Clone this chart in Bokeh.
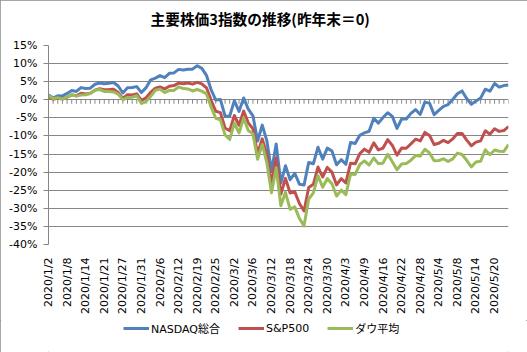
from bokeh.plotting import figure
from bokeh.layouts import column
from bokeh.models import (FixedTicker, Title, ColumnDataSource, Legend, LegendItem,
                          InlineStyleSheet)
from bokeh.embed import file_html
from bokeh.resources import INLINE

dates = [
    "2020/1/2", "2020/1/3", "2020/1/6", "2020/1/7", "2020/1/8", "2020/1/9", "2020/1/10",
    "2020/1/13", "2020/1/14", "2020/1/15", "2020/1/16", "2020/1/17", "2020/1/21", "2020/1/22",
    "2020/1/23", "2020/1/24", "2020/1/27", "2020/1/28", "2020/1/29", "2020/1/30", "2020/1/31",
    "2020/2/3", "2020/2/4", "2020/2/5", "2020/2/6", "2020/2/7", "2020/2/10", "2020/2/11",
    "2020/2/12", "2020/2/13", "2020/2/14", "2020/2/18", "2020/2/19", "2020/2/20", "2020/2/21",
    "2020/2/24", "2020/2/25", "2020/2/26", "2020/2/27", "2020/2/28",
    "2020/3/2", "2020/3/3", "2020/3/4", "2020/3/5", "2020/3/6", "2020/3/9", "2020/3/10",
    "2020/3/11", "2020/3/12", "2020/3/13", "2020/3/16", "2020/3/17", "2020/3/18", "2020/3/19",
    "2020/3/20", "2020/3/23", "2020/3/24", "2020/3/25", "2020/3/26", "2020/3/27", "2020/3/30",
    "2020/3/31",
    "2020/4/1", "2020/4/2", "2020/4/3", "2020/4/6", "2020/4/7", "2020/4/8", "2020/4/9",
    "2020/4/13", "2020/4/14", "2020/4/15", "2020/4/16", "2020/4/17", "2020/4/20", "2020/4/21",
    "2020/4/22", "2020/4/23", "2020/4/24", "2020/4/27", "2020/4/28", "2020/4/29", "2020/4/30",
    "2020/5/1", "2020/5/4", "2020/5/5", "2020/5/6", "2020/5/7", "2020/5/8", "2020/5/11",
    "2020/5/12", "2020/5/13", "2020/5/14", "2020/5/15", "2020/5/18", "2020/5/19", "2020/5/20",
    "2020/5/21", "2020/5/22", "2020/5/26",
]

nasdaq = [
    1.33, 0.54, 1.10, 1.07, 1.75, 2.57, 2.30, 3.36, 3.11, 3.19, 4.29, 4.64, 4.44, 4.58, 4.79,
    3.82, 1.86, 3.31, 3.37, 3.64, 1.99,
    3.35, 5.52, 5.97, 6.68, 6.11, 7.31, 7.43, 8.40, 8.24, 8.45, 8.47, 9.41, 8.67, 6.73, 2.77,
    -0.08, 0.09, -4.53, -4.52,
    -0.23, -3.22, 0.51, -2.61, -4.42, -11.39, -7.00, -11.37, -19.74, -12.23, -23.05, -18.25,
    -22.10, -20.31, -23.33, -23.54, -17.33, -17.70, -13.10, -16.39, -13.36, -14.18,
    -17.97, -16.55, -17.83, -11.81, -12.10, -9.83, -9.13, -8.70, -5.09, -6.46, -4.91, -3.59,
    -4.59, -7.91, -5.32, -5.33, -3.77, -2.70, -4.07, -0.65, -0.93,
    -4.10, -2.92, -1.82, -1.32, 0.08, 1.66, 2.45, 0.33, -1.22, -0.32, 0.47, 2.92, 2.37, 4.49,
    3.48, 3.92, 4.10,
]

sp500 = [
    0.84, 0.13, 0.48, 0.20, 0.69, 1.36, 1.07, 1.78, 1.62, 1.81, 2.66, 3.06, 2.79, 2.82, 2.93,
    2.00, 0.40, 1.41, 1.32, 1.64, -0.16,
    0.56, 2.07, 3.22, 3.56, 3.00, 3.75, 3.93, 4.60, 4.43, 4.62, 4.32, 4.81, 4.41, 3.31, -0.15,
    -3.17, -3.54, -7.80, -8.56,
    -4.35, -7.04, -3.12, -6.40, -8.00, -14.99, -10.79, -15.15, -23.22, -16.09, -26.14, -21.72,
    -25.77, -25.42, -28.66, -30.75, -24.25, -23.38, -18.59, -21.34, -18.70, -20.00,
    -23.53, -21.79, -22.97, -17.55, -17.69, -14.88, -13.65, -14.52, -11.91, -13.85, -13.35,
    -11.03, -12.62, -15.30, -13.35, -13.40, -12.20, -10.90, -11.37, -9.02, -9.85,
    -12.38, -12.01, -11.22, -11.83, -10.82, -9.32, -9.30, -11.16, -12.71, -11.71, -11.36,
    -8.57, -9.53, -8.02, -8.74, -8.52, -7.40,
]

dow = [
    1.16, 0.34, 0.58, 0.16, 0.72, 1.47, 1.00, 1.29, 1.41, 1.72, 2.66, 2.84, 2.30, 2.27, 2.18,
    1.58, -0.01, 0.65, 0.69, 1.12, -0.99,
    -0.49, 0.94, 2.64, 2.95, 1.98, 2.59, 2.59, 3.55, 3.10, 3.01, 2.43, 2.84, 2.39, 1.59, -2.02,
    -5.11, -5.54, -9.71, -10.96,
    -6.43, -9.18, -5.07, -8.47, -9.37, -16.43, -12.34, -17.47, -25.71, -18.76, -29.26, -25.58,
    -30.27, -29.61, -32.81, -34.85, -27.45, -25.71, -20.98, -24.18, -21.76, -23.20,
    -26.61, -24.97, -26.23, -20.53, -20.62, -17.89, -16.89, -18.04, -16.08, -17.64, -17.52,
    -15.05, -17.13, -19.34, -17.74, -17.60, -16.69, -15.43, -15.55, -13.68, -14.69,
    -16.87, -16.78, -16.31, -17.08, -16.34, -14.74, -15.13, -16.73, -18.54, -17.22, -17.01,
    -13.81, -15.18, -13.88, -14.24, -14.27, -12.42,
]

series_names = ["NASDAQ総合", "S&P500", "ダウ平均"]
series_colors = ["#4F81BD", "#C0504D", "#9BBB59"]
y_ticks = [-40, -35, -30, -25, -20, -15, -10, -5, 0, 5, 10, 15]
title_text = "主要株価3指数の推移(昨年末＝0)"
label_step = 4

LATIN = "DejaVu Sans, 'Noto Sans CJK JP', sans-serif"
CJK = "'Noto Sans CJK JP', sans-serif"
GRID = "#868686"

idx = list(range(len(dates)))
cols = ["nasdaq", "sp500", "dow"]
src = ColumnDataSource(dict(x=idx, nasdaq=nasdaq, sp500=sp500, dow=dow,
                            zero=[0] * len(idx), tick=[-1.1] * len(idx)))

# ---------------- main chart ----------------
p = figure(frame_width=460, frame_height=199, output_backend="svg", toolbar_location=None,
           x_range=(0, len(dates) - 1), y_range=(y_ticks[0], y_ticks[-1]),
           min_border_left=48, min_border_right=19, min_border_top=45, min_border_bottom=76)
p.outline_line_color = None
p.background_fill_color = "white"
p.border_fill_color = "white"

p.title = Title(text=title_text, align="left", offset=102, standoff=0,
                vertical_align="bottom", text_font=CJK, text_font_size="14.7px",
                text_font_style="bold", text_color="#000000",
                padding=dict(left=0, right=0, top=0, bottom=17))

p.xgrid.visible = False
p.ygrid.ticker = FixedTicker(ticks=y_ticks)
p.ygrid.grid_line_color = GRID
p.ygrid.grid_line_width = 1

p.yaxis.ticker = FixedTicker(ticks=y_ticks)
p.yaxis.major_label_overrides = {t: f"{t}%" for t in y_ticks}
p.yaxis.axis_line_color = GRID
p.yaxis.major_tick_line_color = GRID
p.yaxis.major_tick_out = 5
p.yaxis.major_tick_in = 0
p.yaxis.minor_tick_line_color = None
p.yaxis.major_label_standoff = 6
p.yaxis.major_label_text_font = LATIN
p.yaxis.major_label_text_font_size = "11px"
p.yaxis.major_label_text_color = "#000000"

xt = idx[::label_step]
p.xaxis.ticker = FixedTicker(ticks=xt)
p.xaxis.major_label_overrides = {i: dates[i] for i in xt}
p.xaxis.major_label_orientation = 3.14159265 / 2
p.xaxis.axis_line_color = None
p.xaxis.major_tick_line_color = None
p.xaxis.minor_tick_line_color = None
p.xaxis.major_label_standoff = 7
p.xaxis.major_label_text_font = LATIN
p.xaxis.major_label_text_font_size = "11px"
p.xaxis.major_label_text_color = "#000000"

# category tick marks on the 0% line
p.segment(x0="x", y0="zero", x1="x", y1="tick", source=src, line_color=GRID, line_width=1)

for col, color in zip(cols, series_colors):
    p.line("x", col, source=src, line_color=color, line_width=3, line_join="round")

# ---------------- legend strip ----------------
# same series, but this strip's y range lies above all data, so only the legend shows
p2 = figure(width=527, height=32, output_backend="svg", toolbar_location=None,
            x_axis_type=None, y_axis_type=None, min_border=0,
            x_range=(0, len(dates) - 1), y_range=(100, 101))
p2.outline_line_color = None
p2.grid.visible = False
p2.background_fill_color = "white"
p2.border_fill_color = "white"

items = []
for col, name, color in zip(cols, series_names, series_colors):
    r = p2.line("x", col, source=src, line_color=color, line_width=3)
    items.append(LegendItem(label=name, renderers=[r]))

lg = Legend(items=items, location=(75, 16), orientation="horizontal",
            border_line_color=None, background_fill_alpha=0, padding=0, margin=0,
            spacing=18, glyph_width=26, glyph_height=12, label_height=12,
            label_standoff=2, label_text_font=LATIN, label_text_font_size="11px",
            label_text_color="#000000")
p2.add_layout(lg)

layout = column(p, p2, spacing=0,
                stylesheets=[InlineStyleSheet(css=":host { outline: 1px solid #8a8a8a; outline-offset: -1px; }")])

open("out.html", "w").write(file_html(layout, INLINE))
